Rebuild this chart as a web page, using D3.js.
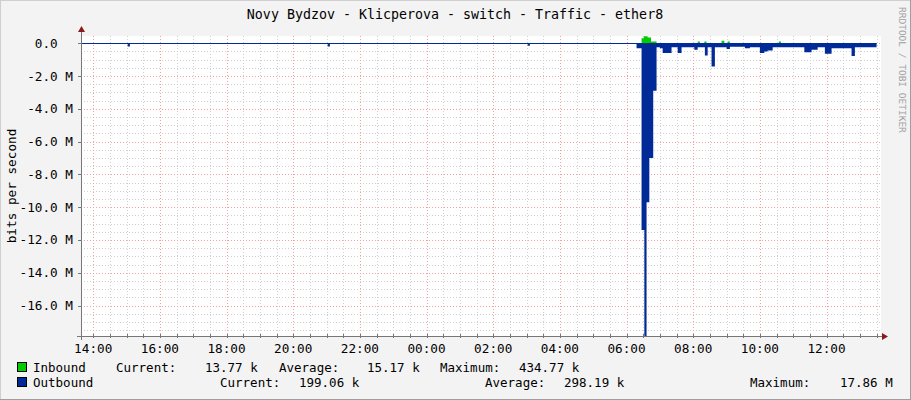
<!DOCTYPE html>
<html><head><meta charset="utf-8">
<script src="https://cdn.jsdelivr.net/npm/d3@7"></script>
<style>body{margin:0;background:#f3f3f3}text{font-family:"DejaVu Sans Mono",monospace;white-space:pre}</style>
</head><body><svg id="c" width="911" height="400"></svg>
<script>
// ---- data (values in Mbit/s, time "HH:MM", day 0 starts 13:38, times < 13:38 are next day)
const outTimes = ["13:38","15:02","15:06","21:02","21:06","03:02","03:06","06:18","06:27","06:32","06:36","06:41","06:48","06:54","07:00","07:05","07:21","07:32","07:39","08:02","08:08","08:21","08:26","08:33","08:39","09:00","09:06","09:33","09:42","10:00","10:08","10:14","10:23","11:20","11:33","11:44","11:57","12:09","12:45","12:51","13:30"];
const outValues = [0.01,0.2,0.01,0.2,0.01,0.15,0.01,0.3,11.4,17.86,9.7,7.0,2.9,0.25,0.3,0.6,0.25,0.6,0.25,0.4,0.25,0.75,0.25,1.42,0.25,0.35,0.22,0.3,0.25,0.6,0.5,0.45,0.25,0.55,0.4,0.25,0.65,0.3,0.78,0.25,0.25];
const inTimes = ["13:38","06:27","06:31","06:38","06:44","06:54","08:08","08:12","08:20","08:24","08:51","08:56","09:02","09:06","10:34","10:38","13:30"];
const inValues = [0.0,0.3,0.43,0.35,0.1,0.0,0.1,0.0,0.1,0.0,0.15,0.0,0.1,0.0,0.1,0.0,0.0];
const endTime = "13:30";
const yTicks = [0,-2,-4,-6,-8,-10,-12,-14,-16];
const yTickLabels = ["0.0  ","-2.0 M","-4.0 M","-6.0 M","-8.0 M","-10.0 M","-12.0 M","-14.0 M","-16.0 M"];
const xTickLabels = ["14:00","16:00","18:00","20:00","22:00","00:00","02:00","04:00","06:00","08:00","10:00","12:00"];
const legendIn = ["Inbound","Current:","13.77 k","Average:","15.17 k","Maximum:","434.77 k"];
const legendOut = ["Outbound","Current:","199.06 k","Average:","298.19 k","Maximum:","17.86 M"];

const base = new Date(2024,0,1,13,38);
function toDate(s){const [h,m]=s.split(":").map(Number);let d=new Date(2024,0,1,h,m);if(d<base)d=new Date(2024,0,2,h,m);return d;}

const svg = d3.select("#c");
const L=81,R=881,T=36,B=336;
svg.append("rect").attr("x",0.5).attr("y",0.5).attr("width",910).attr("height",399).attr("fill","#f3f3f3").attr("stroke","#cfcfcf");
svg.append("line").attr("x1",910.5).attr("x2",910.5).attr("y1",0).attr("y2",400).attr("stroke","#9e9e9e");
svg.append("line").attr("x1",0).attr("x2",911).attr("y1",399.5).attr("y2",399.5).attr("stroke","#9e9e9e");
svg.append("rect").attr("x",L).attr("y",T).attr("width",R-L).attr("height",B-T).attr("fill","#fff");

const x = d3.scaleTime().domain([base,new Date(2024,0,2,13,38)]).range([L,R]);
const y = d3.scaleLinear().domain([-17.86,0.44]).range([B,T]);

// grid
const g=svg.append("g");
const minorX = d3.timeMinute.every(30).range(new Date(2024,0,1,14,0),x.domain()[1]);
minorX.forEach(d=>{const xx=Math.round(x(d))+0.5;const major=d.getMinutes()===0&&d.getHours()%2===0;
  if(!major) g.append("line").attr("x1",xx).attr("x2",xx).attr("y1",T).attr("y2",B).attr("stroke","#d0d0d0").attr("stroke-dasharray","1,2");});
for(let v=0;v>=-17.5;v-=0.5){const yy=Math.round(y(v))+0.5;if(v%2!==0) g.append("line").attr("x1",L).attr("x2",R).attr("y1",yy).attr("y2",yy).attr("stroke","#d0d0d0").attr("stroke-dasharray","1,2");}
minorX.forEach(d=>{const xx=Math.round(x(d))+0.5;if(d.getMinutes()===0&&d.getHours()%2===0)
  g.append("line").attr("x1",xx).attr("x2",xx).attr("y1",T).attr("y2",B).attr("stroke","#f4a0a0").attr("stroke-dasharray","1,2");});
yTicks.forEach(v=>{const yy=Math.round(y(v))+0.5;g.append("line").attr("x1",L).attr("x2",R).attr("y1",yy).attr("y2",yy).attr("stroke","#f4a0a0").attr("stroke-dasharray","1,2");});

// data
const outData = outTimes.map((t,i)=>({d:toDate(t),v:outValues[i]}));
const inData = inTimes.map((t,i)=>({d:toDate(t),v:inValues[i]}));
const areaOut = d3.area().curve(d3.curveStepAfter).x(p=>x(p.d)).y0(y(0)).y1(p=>y(-p.v));
const areaIn = d3.area().curve(d3.curveStepAfter).x(p=>x(p.d)).y0(y(0)).y1(p=>y(p.v));
svg.append("path").datum(inData).attr("d",areaIn).attr("fill","#00cc00");
svg.append("path").datum(outData).attr("d",areaOut).attr("fill","#002a97");
svg.append("line").attr("x1",L).attr("x2",x(toDate(endTime))).attr("y1",Math.round(y(0))+0.5).attr("y2",Math.round(y(0))+0.5).attr("stroke","#002a97");

// axes
svg.append("line").attr("x1",L+0.5).attr("x2",L+0.5).attr("y1",30).attr("y2",B+4).attr("stroke","#777");
svg.append("line").attr("x1",L-4).attr("x2",R+3).attr("y1",B+0.5).attr("y2",B+0.5).attr("stroke","#777");
svg.append("path").attr("d",`M${L-3},${T-4}L${L+4},${T-4}L${L+0.5},${T-10}Z`).attr("fill","#8b1a1a");
svg.append("path").attr("d",`M${R+1},${B-3}L${R+1},${B+4}L${R+7},${B+0.5}Z`).attr("fill","#8b1a1a");
yTicks.forEach(v=>{const yy=Math.round(y(v))+0.5;svg.append("line").attr("x1",L-3).attr("x2",L+1).attr("y1",yy).attr("y2",yy).attr("stroke","#777");});
minorX.forEach(d=>{const xx=Math.round(x(d))+0.5;svg.append("line").attr("x1",xx).attr("x2",xx).attr("y1",B-2).attr("y2",B+2).attr("stroke","#777");});

const txt=(s,xx,yy,anchor,size,col)=>svg.append("text").attr("x",xx).attr("y",yy).attr("text-anchor",anchor||"start").attr("font-size",size||12.5).attr("fill",col||"#000").text(s);
yTicks.forEach((v,i)=>txt(yTickLabels[i],73,y(v)+4.5,"end",12.7));
xTickLabels.forEach((s,i)=>txt(s,x(new Date(2024,0,1,14+2*i,0)),353,"middle",12.7));
txt("Novy Bydzov - Klicperova - switch - Traffic - ether8",455,19,"middle",13.3);
svg.append("text").attr("transform","translate(16,186) rotate(-90)").attr("text-anchor","middle").attr("font-size",12.7).text("bits per second");
svg.append("text").attr("transform","translate(899,7) rotate(90)").attr("font-size",9.5).attr("fill","#a0a0a0").text("RRDTOOL / TOBI OETIKER");

// legend
svg.append("rect").attr("x",17.5).attr("y",362.5).attr("width",9).attr("height",9).attr("fill","#00cc00").attr("stroke","#000");
svg.append("rect").attr("x",17.5).attr("y",377.5).attr("width",9).attr("height",9).attr("fill","#002a97").attr("stroke","#000");
const inX=[33,116,205,279,367,440,519];
legendIn.forEach((s,i)=>txt(s,inX[i],372,"start",12.5));
const outX=[33,220,299,485,564,750,840];
legendOut.forEach((s,i)=>txt(s,outX[i],387,"start",12.5));
</script></body></html>
